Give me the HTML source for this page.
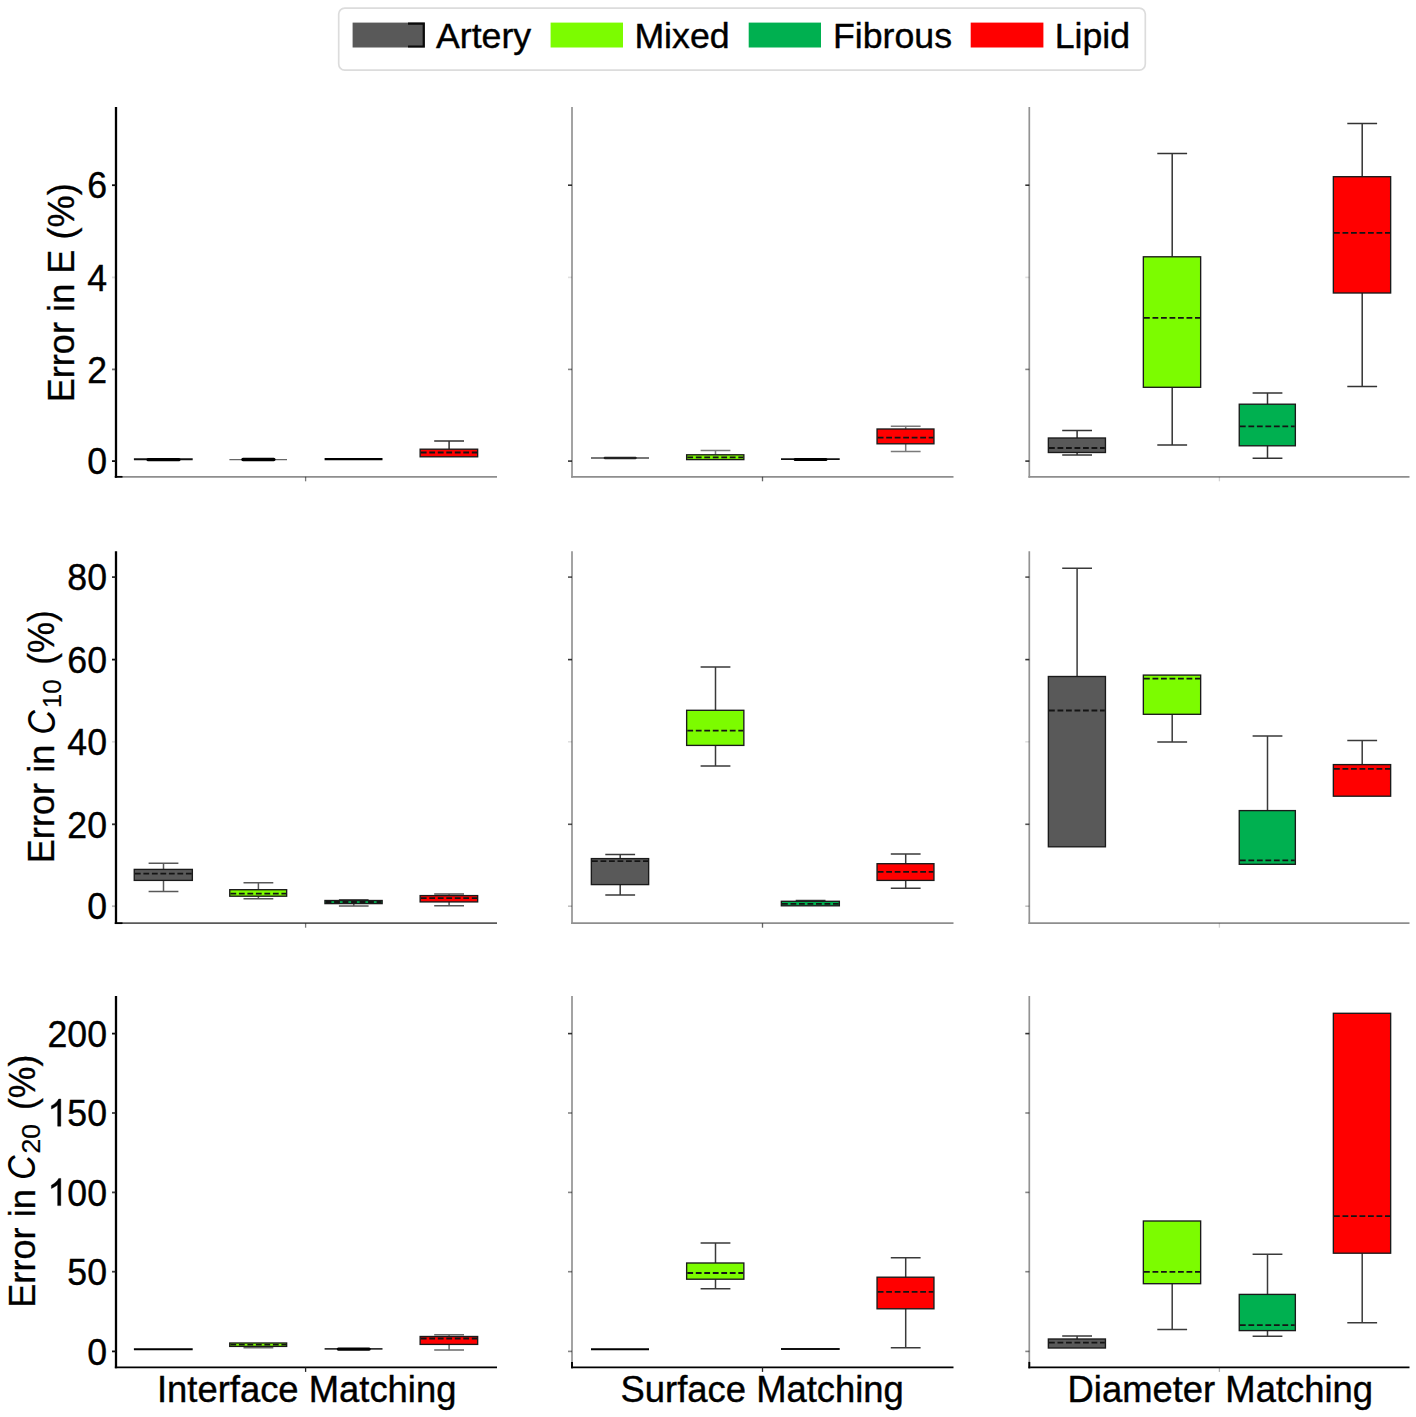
<!DOCTYPE html>
<html><head><meta charset="utf-8"><title>Boxplots</title>
<style>
html,body{margin:0;padding:0;background:#fff;}
body{width:1416px;height:1417px;overflow:hidden;}
svg{display:block;font-family:"Liberation Sans",sans-serif;}
text{fill:#000;}
</style></head><body>
<svg width="1416" height="1417" viewBox="0 0 1416 1417">
<rect x="0" y="0" width="1416" height="1417" fill="#ffffff"/>
<g id="legend">
<rect x="338.7" y="8.1" width="806.6" height="62.0" rx="6" ry="6" fill="#fff" stroke="#dcdcdc" stroke-width="1.7"/>
<rect x="352.6" y="22.6" width="72.4" height="24.9" fill="#595959"/>
<rect x="550.6" y="22.6" width="72.4" height="24.9" fill="#7CFC00"/>
<rect x="748.7" y="22.6" width="72.3" height="24.9" fill="#00B050"/>
<rect x="970.7" y="22.6" width="72.7" height="24.9" fill="#FF0000"/>
<path d="M408 23.6 H423.7 V46.5 H408" fill="none" stroke="#0a0a0a" stroke-width="2.1"/>
<text transform="translate(436.0 47.9) scale(0.986 0.99)" font-size="36.2" stroke="#000" stroke-width="0.4">Artery</text>
<text transform="translate(634.4 47.9) scale(0.986 0.99)" font-size="36.2" stroke="#000" stroke-width="0.4">Mixed</text>
<text transform="translate(833.0 47.9) scale(0.986 0.99)" font-size="36.2" stroke="#000" stroke-width="0.4">Fibrous</text>
<text transform="translate(1054.7 47.9) scale(0.986 0.99)" font-size="36.2" stroke="#000" stroke-width="0.4">Lipid</text>
</g>
<g id="p00">
<line x1="133.9" y1="459.3" x2="192.7" y2="459.3" stroke="#111" stroke-width="2.0"/>
<line x1="148.1" y1="459.7" x2="178.9" y2="459.7" stroke="#000" stroke-width="3.3" stroke-linecap="round"/>
<line x1="229.4" y1="459.6" x2="287.0" y2="459.6" stroke="#666" stroke-width="1.3"/>
<line x1="242.99999999999997" y1="459.6" x2="273.79999999999995" y2="459.6" stroke="#000" stroke-width="3.5" stroke-linecap="round"/>
<line x1="324.6" y1="459.1" x2="382.5" y2="459.1" stroke="#000" stroke-width="2.3"/>
<path d="M449.1 449.2 V441.0 M434.2 441.0 H464.0" fill="none" stroke="#333" stroke-width="1.5"/>
<rect x="420.15" y="449.2" width="57.50" height="7.6" fill="#FF0000" stroke="#1a1a1a" stroke-width="1.35"/>
<line x1="420.8" y1="452.5" x2="477.0" y2="452.5" stroke="#141414" stroke-width="1.8" stroke-dasharray="5.8 2.7"/>
<line x1="114.85" y1="476.8" x2="497.0" y2="476.8" stroke="#8e8e8e" stroke-width="1.7"/>
<line x1="114.85" y1="476.8" x2="122.5" y2="476.8" stroke="#000" stroke-width="1.7"/>
<line x1="116.0" y1="107.0" x2="116.0" y2="477.65" stroke="#000" stroke-width="2.3"/>
<line x1="112.0" y1="185.2" x2="116.0" y2="185.2" stroke="#111" stroke-width="1.8" stroke-opacity="1.00"/>
<text transform="translate(107.0 198.4) scale(0.985 1.045)" font-size="36.2" text-anchor="end" stroke="#000" stroke-width="0.4">6</text>
<line x1="112.0" y1="277.4" x2="116.0" y2="277.4" stroke="#111" stroke-width="1.8" stroke-opacity="0.15"/>
<text transform="translate(107.0 290.6) scale(0.985 1.045)" font-size="36.2" text-anchor="end" stroke="#000" stroke-width="0.4">4</text>
<line x1="112.0" y1="369.4" x2="116.0" y2="369.4" stroke="#111" stroke-width="1.8" stroke-opacity="0.60"/>
<text transform="translate(107.0 382.6) scale(0.985 1.045)" font-size="36.2" text-anchor="end" stroke="#000" stroke-width="0.4">2</text>
<line x1="112.0" y1="461.1" x2="116.0" y2="461.1" stroke="#111" stroke-width="1.8" stroke-opacity="1.00"/>
<text transform="translate(107.0 474.3) scale(0.985 1.045)" font-size="36.2" text-anchor="end" stroke="#000" stroke-width="0.4">0</text>
<line x1="305.6" y1="476.8" x2="305.6" y2="481.3" stroke="#222" stroke-width="1.3" stroke-opacity="0.6"/>
</g>
<g id="p01">
<line x1="591.0" y1="458.0" x2="649.0" y2="458.0" stroke="#777" stroke-width="1.9"/>
<line x1="604.8000000000001" y1="458.0" x2="635.6" y2="458.0" stroke="#222" stroke-width="2.3" stroke-linecap="round"/>
<path d="M715.5 454.8 V450.6 M700.6 450.6 H730.4" fill="none" stroke="#7a7a7a" stroke-width="1.5"/>
<rect x="686.65" y="454.8" width="57.20" height="4.8" fill="#7CFC00" stroke="#1a1a1a" stroke-width="1.35"/>
<line x1="687.3" y1="457.3" x2="743.2" y2="457.3" stroke="#141414" stroke-width="1.8" stroke-dasharray="5.8 2.7"/>
<line x1="781.0" y1="459.1" x2="839.7" y2="459.1" stroke="#111" stroke-width="1.8"/>
<line x1="795.1500000000001" y1="459.40000000000003" x2="825.95" y2="459.40000000000003" stroke="#000" stroke-width="3.0" stroke-linecap="round"/>
<path d="M905.7 429.0 V426.3 M890.8 426.3 H920.6" fill="none" stroke="#7a7a7a" stroke-width="1.5"/>
<path d="M905.7 443.8 V451.4 M890.8 451.4 H920.6" fill="none" stroke="#7a7a7a" stroke-width="1.5"/>
<rect x="877.05" y="429.0" width="56.90" height="14.8" fill="#FF0000" stroke="#1a1a1a" stroke-width="1.35"/>
<line x1="877.7" y1="437.6" x2="933.3" y2="437.6" stroke="#141414" stroke-width="1.8" stroke-dasharray="5.8 2.7"/>
<line x1="571.15" y1="476.8" x2="953.5" y2="476.8" stroke="#8e8e8e" stroke-width="1.7"/>
<line x1="572.0" y1="107.0" x2="572.0" y2="477.65" stroke="#939393" stroke-width="1.7"/>
<line x1="568.0" y1="185.2" x2="572.0" y2="185.2" stroke="#111" stroke-width="1.6" stroke-opacity="0.85"/>
<line x1="568.0" y1="277.4" x2="572.0" y2="277.4" stroke="#111" stroke-width="1.6" stroke-opacity="0.13"/>
<line x1="568.0" y1="369.4" x2="572.0" y2="369.4" stroke="#111" stroke-width="1.6" stroke-opacity="0.51"/>
<line x1="568.0" y1="461.1" x2="572.0" y2="461.1" stroke="#111" stroke-width="1.6" stroke-opacity="0.85"/>
<line x1="762.5" y1="476.8" x2="762.5" y2="481.3" stroke="#222" stroke-width="1.3" stroke-opacity="0.7"/>
</g>
<g id="p02">
<path d="M1077.1 438.0 V430.5 M1062.2 430.5 H1092.0" fill="none" stroke="#333" stroke-width="1.5"/>
<path d="M1077.1 452.5 V455.0 M1062.2 455.0 H1092.0" fill="none" stroke="#333" stroke-width="1.5"/>
<rect x="1048.35" y="438.0" width="57.10" height="14.5" fill="#595959" stroke="#1a1a1a" stroke-width="1.35"/>
<line x1="1049.0" y1="448.0" x2="1104.8" y2="448.0" stroke="#141414" stroke-width="1.8" stroke-dasharray="5.8 2.7"/>
<path d="M1172.2 256.8 V153.5 M1157.3 153.5 H1187.1" fill="none" stroke="#333" stroke-width="1.5"/>
<path d="M1172.2 387.3 V445.0 M1157.3 445.0 H1187.1" fill="none" stroke="#333" stroke-width="1.5"/>
<rect x="1143.35" y="256.8" width="57.30" height="130.5" fill="#7CFC00" stroke="#1a1a1a" stroke-width="1.35"/>
<line x1="1144.0" y1="317.8" x2="1200.0" y2="317.8" stroke="#141414" stroke-width="1.8" stroke-dasharray="5.8 2.7"/>
<path d="M1267.5 404.2 V393.0 M1252.6 393.0 H1282.4" fill="none" stroke="#333" stroke-width="1.5"/>
<path d="M1267.5 445.8 V458.2 M1252.6 458.2 H1282.4" fill="none" stroke="#333" stroke-width="1.5"/>
<rect x="1239.25" y="404.2" width="56.10" height="41.6" fill="#00B050" stroke="#1a1a1a" stroke-width="1.35"/>
<line x1="1239.9" y1="426.3" x2="1294.7" y2="426.3" stroke="#141414" stroke-width="1.8" stroke-dasharray="5.8 2.7"/>
<path d="M1362.2 176.7 V123.5 M1347.3 123.5 H1377.1" fill="none" stroke="#333" stroke-width="1.5"/>
<path d="M1362.2 293.0 V386.4 M1347.3 386.4 H1377.1" fill="none" stroke="#333" stroke-width="1.5"/>
<rect x="1333.35" y="176.7" width="57.30" height="116.3" fill="#FF0000" stroke="#1a1a1a" stroke-width="1.35"/>
<line x1="1334.0" y1="232.8" x2="1390.0" y2="232.8" stroke="#141414" stroke-width="1.8" stroke-dasharray="5.8 2.7"/>
<line x1="1028.45" y1="476.8" x2="1409.5" y2="476.8" stroke="#8e8e8e" stroke-width="1.7"/>
<line x1="1029.3" y1="107.0" x2="1029.3" y2="477.65" stroke="#939393" stroke-width="1.7"/>
<line x1="1025.3" y1="185.2" x2="1029.3" y2="185.2" stroke="#111" stroke-width="1.6" stroke-opacity="0.85"/>
<line x1="1025.3" y1="277.4" x2="1029.3" y2="277.4" stroke="#111" stroke-width="1.6" stroke-opacity="0.13"/>
<line x1="1025.3" y1="369.4" x2="1029.3" y2="369.4" stroke="#111" stroke-width="1.6" stroke-opacity="0.51"/>
<line x1="1025.3" y1="461.1" x2="1029.3" y2="461.1" stroke="#111" stroke-width="1.6" stroke-opacity="0.85"/>
<line x1="1219.4" y1="476.8" x2="1219.4" y2="481.3" stroke="#222" stroke-width="1.3" stroke-opacity="0.2"/>
</g>
<text transform="translate(74.3 292.8) rotate(-90) scale(1 1.02)" font-size="36.2" text-anchor="middle" stroke="#000" stroke-width="0.3">Error in E (%)</text>
<g id="p10">
<path d="M163.5 869.4 V863.2 M148.6 863.2 H178.4" fill="none" stroke="#585858" stroke-width="1.5"/>
<path d="M163.5 880.4 V891.4 M148.6 891.4 H178.4" fill="none" stroke="#585858" stroke-width="1.5"/>
<rect x="134.25" y="869.4" width="58.10" height="11.0" fill="#595959" stroke="#1a1a1a" stroke-width="1.35"/>
<line x1="134.9" y1="873.6" x2="191.7" y2="873.6" stroke="#141414" stroke-width="1.8" stroke-dasharray="5.8 2.7"/>
<path d="M258.4 889.7 V882.7 M243.5 882.7 H273.3" fill="none" stroke="#585858" stroke-width="1.5"/>
<path d="M258.4 896.2 V898.8 M243.5 898.8 H273.3" fill="none" stroke="#585858" stroke-width="1.5"/>
<rect x="229.75" y="889.7" width="56.90" height="6.5" fill="#7CFC00" stroke="#1a1a1a" stroke-width="1.35"/>
<line x1="230.4" y1="893.7" x2="286.0" y2="893.7" stroke="#141414" stroke-width="1.8" stroke-dasharray="5.8 2.7"/>
<path d="M353.8 900.5 V899.8 M338.9 899.8 H368.6" fill="none" stroke="#585858" stroke-width="1.5"/>
<path d="M353.8 903.6 V906.1 M338.9 906.1 H368.6" fill="none" stroke="#585858" stroke-width="1.5"/>
<rect x="324.95" y="900.5" width="57.20" height="3.1" fill="#00B050" stroke="#1a1a1a" stroke-width="1.35"/>
<line x1="325.6" y1="902.0" x2="381.5" y2="902.0" stroke="#141414" stroke-width="1.8" stroke-dasharray="5.8 2.7"/>
<path d="M449.1 895.6 V894.0 M434.2 894.0 H464.0" fill="none" stroke="#585858" stroke-width="1.5"/>
<path d="M449.1 901.9 V905.8 M434.2 905.8 H464.0" fill="none" stroke="#585858" stroke-width="1.5"/>
<rect x="420.15" y="895.6" width="57.50" height="6.3" fill="#FF0000" stroke="#1a1a1a" stroke-width="1.35"/>
<line x1="420.8" y1="898.2" x2="477.0" y2="898.2" stroke="#141414" stroke-width="1.8" stroke-dasharray="5.8 2.7"/>
<line x1="114.85" y1="923.2" x2="497.0" y2="923.2" stroke="#5a5a5a" stroke-width="1.7"/>
<line x1="114.85" y1="923.2" x2="122.5" y2="923.2" stroke="#000" stroke-width="1.7"/>
<line x1="116.0" y1="551.3" x2="116.0" y2="924.05" stroke="#000" stroke-width="2.3"/>
<line x1="112.0" y1="577.1" x2="116.0" y2="577.1" stroke="#111" stroke-width="1.8" stroke-opacity="0.85"/>
<text transform="translate(107.0 590.3) scale(0.985 1.045)" font-size="36.2" text-anchor="end" stroke="#000" stroke-width="0.4">80</text>
<line x1="112.0" y1="659.6" x2="116.0" y2="659.6" stroke="#111" stroke-width="1.8" stroke-opacity="1.00"/>
<text transform="translate(107.0 672.8) scale(0.985 1.045)" font-size="36.2" text-anchor="end" stroke="#000" stroke-width="0.4">60</text>
<line x1="112.0" y1="741.8" x2="116.0" y2="741.8" stroke="#111" stroke-width="1.8" stroke-opacity="0.15"/>
<text transform="translate(107.0 755.0) scale(0.985 1.045)" font-size="36.2" text-anchor="end" stroke="#000" stroke-width="0.4">40</text>
<line x1="112.0" y1="824.3" x2="116.0" y2="824.3" stroke="#111" stroke-width="1.8" stroke-opacity="0.85"/>
<text transform="translate(107.0 837.5) scale(0.985 1.045)" font-size="36.2" text-anchor="end" stroke="#000" stroke-width="0.4">20</text>
<line x1="112.0" y1="906.2" x2="116.0" y2="906.2" stroke="#111" stroke-width="1.8" stroke-opacity="0.30"/>
<text transform="translate(107.0 919.4) scale(0.985 1.045)" font-size="36.2" text-anchor="end" stroke="#000" stroke-width="0.4">0</text>
<line x1="305.6" y1="923.2" x2="305.6" y2="927.7" stroke="#222" stroke-width="1.3" stroke-opacity="0.6"/>
</g>
<g id="p11">
<path d="M620.2 858.6 V854.4 M605.3 854.4 H635.1" fill="none" stroke="#3a3a3a" stroke-width="1.5"/>
<path d="M620.2 884.6 V895.0 M605.3 895.0 H635.1" fill="none" stroke="#3a3a3a" stroke-width="1.5"/>
<rect x="591.35" y="858.6" width="57.30" height="26.0" fill="#595959" stroke="#1a1a1a" stroke-width="1.35"/>
<line x1="592.0" y1="861.2" x2="648.0" y2="861.2" stroke="#141414" stroke-width="1.8" stroke-dasharray="5.8 2.7"/>
<path d="M715.5 710.3 V667.1 M700.6 667.1 H730.4" fill="none" stroke="#3a3a3a" stroke-width="1.5"/>
<path d="M715.5 745.4 V766.0 M700.6 766.0 H730.4" fill="none" stroke="#3a3a3a" stroke-width="1.5"/>
<rect x="686.65" y="710.3" width="57.20" height="35.1" fill="#7CFC00" stroke="#1a1a1a" stroke-width="1.35"/>
<line x1="687.3" y1="730.7" x2="743.2" y2="730.7" stroke="#141414" stroke-width="1.8" stroke-dasharray="5.8 2.7"/>
<path d="M810.6 901.3 V900.5 M795.7 900.5 H825.5" fill="none" stroke="#3a3a3a" stroke-width="1.5"/>
<rect x="781.35" y="901.3" width="58.00" height="4.5" fill="#00B050" stroke="#1a1a1a" stroke-width="1.35"/>
<line x1="782.0" y1="903.8" x2="838.7" y2="903.8" stroke="#141414" stroke-width="1.8" stroke-dasharray="5.8 2.7"/>
<path d="M905.7 863.7 V854.1 M890.8 854.1 H920.6" fill="none" stroke="#3a3a3a" stroke-width="1.5"/>
<path d="M905.7 880.4 V888.3 M890.8 888.3 H920.6" fill="none" stroke="#3a3a3a" stroke-width="1.5"/>
<rect x="877.05" y="863.7" width="56.90" height="16.7" fill="#FF0000" stroke="#1a1a1a" stroke-width="1.35"/>
<line x1="877.7" y1="871.9" x2="933.3" y2="871.9" stroke="#141414" stroke-width="1.8" stroke-dasharray="5.8 2.7"/>
<line x1="571.15" y1="923.2" x2="953.5" y2="923.2" stroke="#8e8e8e" stroke-width="1.7"/>
<line x1="572.0" y1="551.3" x2="572.0" y2="924.05" stroke="#939393" stroke-width="1.7"/>
<line x1="568.0" y1="577.1" x2="572.0" y2="577.1" stroke="#111" stroke-width="1.6" stroke-opacity="0.72"/>
<line x1="568.0" y1="659.6" x2="572.0" y2="659.6" stroke="#111" stroke-width="1.6" stroke-opacity="0.85"/>
<line x1="568.0" y1="741.8" x2="572.0" y2="741.8" stroke="#111" stroke-width="1.6" stroke-opacity="0.13"/>
<line x1="568.0" y1="824.3" x2="572.0" y2="824.3" stroke="#111" stroke-width="1.6" stroke-opacity="0.72"/>
<line x1="568.0" y1="906.2" x2="572.0" y2="906.2" stroke="#111" stroke-width="1.6" stroke-opacity="0.26"/>
<line x1="762.5" y1="923.2" x2="762.5" y2="927.7" stroke="#222" stroke-width="1.3" stroke-opacity="0.7"/>
</g>
<g id="p12">
<path d="M1077.1 676.5 V568.2 M1062.2 568.2 H1092.0" fill="none" stroke="#3a3a3a" stroke-width="1.5"/>
<rect x="1048.35" y="676.5" width="57.10" height="170.3" fill="#595959" stroke="#1a1a1a" stroke-width="1.35"/>
<line x1="1049.0" y1="710.5" x2="1104.8" y2="710.5" stroke="#141414" stroke-width="1.8" stroke-dasharray="5.8 2.7"/>
<path d="M1172.2 714.3 V742.0 M1157.3 742.0 H1187.1" fill="none" stroke="#3a3a3a" stroke-width="1.5"/>
<rect x="1143.35" y="675.1" width="57.30" height="39.2" fill="#7CFC00" stroke="#1a1a1a" stroke-width="1.35"/>
<line x1="1144.0" y1="678.6" x2="1200.0" y2="678.6" stroke="#141414" stroke-width="1.8" stroke-dasharray="5.8 2.7"/>
<path d="M1267.5 810.6 V736.0 M1252.6 736.0 H1282.4" fill="none" stroke="#3a3a3a" stroke-width="1.5"/>
<rect x="1239.25" y="810.6" width="56.10" height="53.7" fill="#00B050" stroke="#1a1a1a" stroke-width="1.35"/>
<line x1="1239.9" y1="860.3" x2="1294.7" y2="860.3" stroke="#141414" stroke-width="1.8" stroke-dasharray="5.8 2.7"/>
<path d="M1362.2 764.6 V740.6 M1347.3 740.6 H1377.1" fill="none" stroke="#3a3a3a" stroke-width="1.5"/>
<rect x="1333.35" y="764.6" width="57.30" height="31.6" fill="#FF0000" stroke="#1a1a1a" stroke-width="1.35"/>
<line x1="1334.0" y1="768.8" x2="1390.0" y2="768.8" stroke="#141414" stroke-width="1.8" stroke-dasharray="5.8 2.7"/>
<line x1="1028.45" y1="923.2" x2="1409.5" y2="923.2" stroke="#8e8e8e" stroke-width="1.7"/>
<line x1="1029.3" y1="551.3" x2="1029.3" y2="924.05" stroke="#939393" stroke-width="1.7"/>
<line x1="1025.3" y1="577.1" x2="1029.3" y2="577.1" stroke="#111" stroke-width="1.6" stroke-opacity="0.72"/>
<line x1="1025.3" y1="659.6" x2="1029.3" y2="659.6" stroke="#111" stroke-width="1.6" stroke-opacity="0.85"/>
<line x1="1025.3" y1="741.8" x2="1029.3" y2="741.8" stroke="#111" stroke-width="1.6" stroke-opacity="0.13"/>
<line x1="1025.3" y1="824.3" x2="1029.3" y2="824.3" stroke="#111" stroke-width="1.6" stroke-opacity="0.72"/>
<line x1="1025.3" y1="906.2" x2="1029.3" y2="906.2" stroke="#111" stroke-width="1.6" stroke-opacity="0.26"/>
<line x1="1219.4" y1="923.2" x2="1219.4" y2="927.7" stroke="#222" stroke-width="1.3" stroke-opacity="0.2"/>
</g>
<text transform="translate(54.2 863.3) rotate(-90) scale(1 1.02)" font-size="36.2" text-anchor="start" stroke="#000" stroke-width="0.3">Error in</text>
<text transform="translate(55.0 734.6) rotate(-90) scale(0.89 1.0)" font-size="38.0" text-anchor="start" font-style="italic">C</text>
<text transform="translate(60.5 708.2) rotate(-90) scale(1 1.0)" font-size="26.5" text-anchor="start" textLength="29.0" lengthAdjust="spacingAndGlyphs" stroke="#000" stroke-width="0.2">10</text>
<text transform="translate(54.2 664.7) rotate(-90) scale(0.965 1.02)" font-size="36.2" text-anchor="start" stroke="#000" stroke-width="0.3">(%)</text>
<g id="p20">
<line x1="133.9" y1="1349.2" x2="192.7" y2="1349.2" stroke="#000" stroke-width="2.1"/>
<path d="M258.4 1346.4 V1347.8 M243.5 1347.8 H273.3" fill="none" stroke="#6a6a6a" stroke-width="1.5"/>
<rect x="229.75" y="1343.0" width="56.90" height="3.4" fill="#7CFC00" stroke="#1a1a1a" stroke-width="1.35"/>
<line x1="230.4" y1="1344.6" x2="286.0" y2="1344.6" stroke="#141414" stroke-width="1.8" stroke-dasharray="5.8 2.7"/>
<line x1="324.6" y1="1348.9" x2="382.5" y2="1348.9" stroke="#333" stroke-width="1.6"/>
<line x1="338.35" y1="1349.1000000000001" x2="369.15" y2="1349.1000000000001" stroke="#000" stroke-width="3.2" stroke-linecap="round"/>
<path d="M449.1 1336.5 V1334.8 M434.2 1334.8 H464.0" fill="none" stroke="#6a6a6a" stroke-width="1.5"/>
<path d="M449.1 1344.4 V1350.0 M434.2 1350.0 H464.0" fill="none" stroke="#6a6a6a" stroke-width="1.5"/>
<rect x="420.15" y="1336.5" width="57.50" height="7.9" fill="#FF0000" stroke="#1a1a1a" stroke-width="1.35"/>
<line x1="420.8" y1="1338.5" x2="477.0" y2="1338.5" stroke="#141414" stroke-width="1.8" stroke-dasharray="5.8 2.7"/>
<line x1="114.85" y1="1367.4" x2="497.0" y2="1367.4" stroke="#000" stroke-width="1.9"/>
<line x1="116.0" y1="996.0" x2="116.0" y2="1368.35" stroke="#000" stroke-width="2.3"/>
<line x1="112.0" y1="1033.6" x2="116.0" y2="1033.6" stroke="#111" stroke-width="1.8" stroke-opacity="1.00"/>
<text transform="translate(107.0 1046.8) scale(0.985 1.045)" font-size="36.2" text-anchor="end" stroke="#000" stroke-width="0.4">200</text>
<line x1="112.0" y1="1113.0" x2="116.0" y2="1113.0" stroke="#111" stroke-width="1.8" stroke-opacity="0.80"/>
<text transform="translate(107.0 1126.2) scale(0.985 1.045)" font-size="36.2" text-anchor="end" stroke="#000" stroke-width="0.4">50</text>
<path transform="translate(47.51 1126.2) scale(0.01741 -0.01847)" d="M763 0H583V1147Q518 1085 412.5 1023T223 930V1104Q373 1174.5 485 1275T644 1470H763Z" fill="#000" stroke="#000" stroke-width="22.6"/>
<line x1="112.0" y1="1192.4" x2="116.0" y2="1192.4" stroke="#111" stroke-width="1.8" stroke-opacity="0.80"/>
<text transform="translate(107.0 1205.6) scale(0.985 1.045)" font-size="36.2" text-anchor="end" stroke="#000" stroke-width="0.4">00</text>
<path transform="translate(47.51 1205.6) scale(0.01741 -0.01847)" d="M763 0H583V1147Q518 1085 412.5 1023T223 930V1104Q373 1174.5 485 1275T644 1470H763Z" fill="#000" stroke="#000" stroke-width="22.6"/>
<line x1="112.0" y1="1271.7" x2="116.0" y2="1271.7" stroke="#111" stroke-width="1.8" stroke-opacity="0.80"/>
<text transform="translate(107.0 1284.9) scale(0.985 1.045)" font-size="36.2" text-anchor="end" stroke="#000" stroke-width="0.4">50</text>
<line x1="112.0" y1="1351.4" x2="116.0" y2="1351.4" stroke="#111" stroke-width="1.8" stroke-opacity="1.00"/>
<text transform="translate(107.0 1364.6) scale(0.985 1.045)" font-size="36.2" text-anchor="end" stroke="#000" stroke-width="0.4">0</text>
<line x1="305.6" y1="1367.4" x2="305.6" y2="1371.9" stroke="#222" stroke-width="1.3" stroke-opacity="1"/>
</g>
<g id="p21">
<line x1="591.0" y1="1349.2" x2="649.0" y2="1349.2" stroke="#000" stroke-width="2.1"/>
<path d="M715.5 1263.0 V1243.0 M700.6 1243.0 H730.4" fill="none" stroke="#3a3a3a" stroke-width="1.5"/>
<path d="M715.5 1279.2 V1288.8 M700.6 1288.8 H730.4" fill="none" stroke="#3a3a3a" stroke-width="1.5"/>
<rect x="686.65" y="1263.0" width="57.20" height="16.2" fill="#7CFC00" stroke="#1a1a1a" stroke-width="1.35"/>
<line x1="687.3" y1="1273.0" x2="743.2" y2="1273.0" stroke="#141414" stroke-width="1.8" stroke-dasharray="5.8 2.7"/>
<line x1="781.0" y1="1349.0" x2="839.7" y2="1349.0" stroke="#111" stroke-width="1.9"/>
<path d="M905.7 1277.2 V1257.7 M890.8 1257.7 H920.6" fill="none" stroke="#3a3a3a" stroke-width="1.5"/>
<path d="M905.7 1308.8 V1347.8 M890.8 1347.8 H920.6" fill="none" stroke="#3a3a3a" stroke-width="1.5"/>
<rect x="877.05" y="1277.2" width="56.90" height="31.6" fill="#FF0000" stroke="#1a1a1a" stroke-width="1.35"/>
<line x1="877.7" y1="1291.9" x2="933.3" y2="1291.9" stroke="#141414" stroke-width="1.8" stroke-dasharray="5.8 2.7"/>
<line x1="571.15" y1="1367.4" x2="953.5" y2="1367.4" stroke="#000" stroke-width="1.9"/>
<line x1="572.0" y1="996.0" x2="572.0" y2="1368.35" stroke="#939393" stroke-width="1.7"/>
<line x1="572.0" y1="1361.9" x2="572.0" y2="1368.3000000000002" stroke="#000" stroke-width="1.9"/>
<line x1="568.0" y1="1033.6" x2="572.0" y2="1033.6" stroke="#111" stroke-width="1.6" stroke-opacity="0.85"/>
<line x1="568.0" y1="1113.0" x2="572.0" y2="1113.0" stroke="#111" stroke-width="1.6" stroke-opacity="0.51"/>
<line x1="568.0" y1="1192.4" x2="572.0" y2="1192.4" stroke="#111" stroke-width="1.6" stroke-opacity="0.51"/>
<line x1="568.0" y1="1271.7" x2="572.0" y2="1271.7" stroke="#111" stroke-width="1.6" stroke-opacity="0.51"/>
<line x1="568.0" y1="1351.4" x2="572.0" y2="1351.4" stroke="#111" stroke-width="1.6" stroke-opacity="0.51"/>
<line x1="762.5" y1="1367.4" x2="762.5" y2="1371.9" stroke="#222" stroke-width="1.3" stroke-opacity="1"/>
</g>
<g id="p22">
<path d="M1077.1 1339.0 V1335.9 M1062.2 1335.9 H1092.0" fill="none" stroke="#3a3a3a" stroke-width="1.5"/>
<rect x="1048.35" y="1339.0" width="57.10" height="9.0" fill="#595959" stroke="#1a1a1a" stroke-width="1.35"/>
<line x1="1049.0" y1="1342.7" x2="1104.8" y2="1342.7" stroke="#141414" stroke-width="1.8" stroke-dasharray="5.8 2.7"/>
<path d="M1172.2 1283.7 V1329.4 M1157.3 1329.4 H1187.1" fill="none" stroke="#3a3a3a" stroke-width="1.5"/>
<rect x="1143.35" y="1221.0" width="57.30" height="62.7" fill="#7CFC00" stroke="#1a1a1a" stroke-width="1.35"/>
<line x1="1144.0" y1="1271.8" x2="1200.0" y2="1271.8" stroke="#141414" stroke-width="1.8" stroke-dasharray="5.8 2.7"/>
<path d="M1267.5 1294.4 V1254.3 M1252.6 1254.3 H1282.4" fill="none" stroke="#3a3a3a" stroke-width="1.5"/>
<path d="M1267.5 1330.6 V1336.2 M1252.6 1336.2 H1282.4" fill="none" stroke="#3a3a3a" stroke-width="1.5"/>
<rect x="1239.25" y="1294.4" width="56.10" height="36.2" fill="#00B050" stroke="#1a1a1a" stroke-width="1.35"/>
<line x1="1239.9" y1="1325.2" x2="1294.7" y2="1325.2" stroke="#141414" stroke-width="1.8" stroke-dasharray="5.8 2.7"/>
<path d="M1362.2 1253.2 V1322.7 M1347.3 1322.7 H1377.1" fill="none" stroke="#3a3a3a" stroke-width="1.5"/>
<rect x="1333.35" y="1013.3" width="57.30" height="239.9" fill="#FF0000" stroke="#1a1a1a" stroke-width="1.35"/>
<line x1="1334.0" y1="1216.2" x2="1390.0" y2="1216.2" stroke="#141414" stroke-width="1.8" stroke-dasharray="5.8 2.7"/>
<line x1="1028.45" y1="1367.4" x2="1409.5" y2="1367.4" stroke="#000" stroke-width="1.9"/>
<line x1="1029.3" y1="996.0" x2="1029.3" y2="1368.35" stroke="#939393" stroke-width="1.7"/>
<line x1="1029.3" y1="1361.9" x2="1029.3" y2="1368.3000000000002" stroke="#000" stroke-width="1.9"/>
<line x1="1025.3" y1="1033.6" x2="1029.3" y2="1033.6" stroke="#111" stroke-width="1.6" stroke-opacity="0.85"/>
<line x1="1025.3" y1="1113.0" x2="1029.3" y2="1113.0" stroke="#111" stroke-width="1.6" stroke-opacity="0.51"/>
<line x1="1025.3" y1="1192.4" x2="1029.3" y2="1192.4" stroke="#111" stroke-width="1.6" stroke-opacity="0.51"/>
<line x1="1025.3" y1="1271.7" x2="1029.3" y2="1271.7" stroke="#111" stroke-width="1.6" stroke-opacity="0.51"/>
<line x1="1025.3" y1="1351.4" x2="1029.3" y2="1351.4" stroke="#111" stroke-width="1.6" stroke-opacity="0.51"/>
<line x1="1219.4" y1="1367.4" x2="1219.4" y2="1371.9" stroke="#222" stroke-width="1.3" stroke-opacity="0.35"/>
</g>
<text transform="translate(35.1 1307.8) rotate(-90) scale(1 1.02)" font-size="36.2" text-anchor="start" stroke="#000" stroke-width="0.3">Error in</text>
<text transform="translate(34.7 1179.8) rotate(-90) scale(0.89 1.0)" font-size="38.0" text-anchor="start" font-style="italic">C</text>
<text transform="translate(40.4 1153.4) rotate(-90) scale(1 1.0)" font-size="26.5" text-anchor="start" textLength="29.5" lengthAdjust="spacingAndGlyphs" stroke="#000" stroke-width="0.2">20</text>
<text transform="translate(35.1 1110.0) rotate(-90) scale(0.985 1.02)" font-size="36.2" text-anchor="start" stroke="#000" stroke-width="0.3">(%)</text>
<text transform="translate(306.7 1401.8) scale(1.006 1.035)" font-size="36.2" text-anchor="middle" stroke="#000" stroke-width="0.4">Interface Matching</text>
<text transform="translate(762.2 1401.8) scale(1.006 1.035)" font-size="36.2" text-anchor="middle" stroke="#000" stroke-width="0.4">Surface Matching</text>
<text transform="translate(1220.3 1401.8) scale(1.006 1.035)" font-size="36.2" text-anchor="middle" stroke="#000" stroke-width="0.4">Diameter Matching</text>
</svg>
</body></html>
